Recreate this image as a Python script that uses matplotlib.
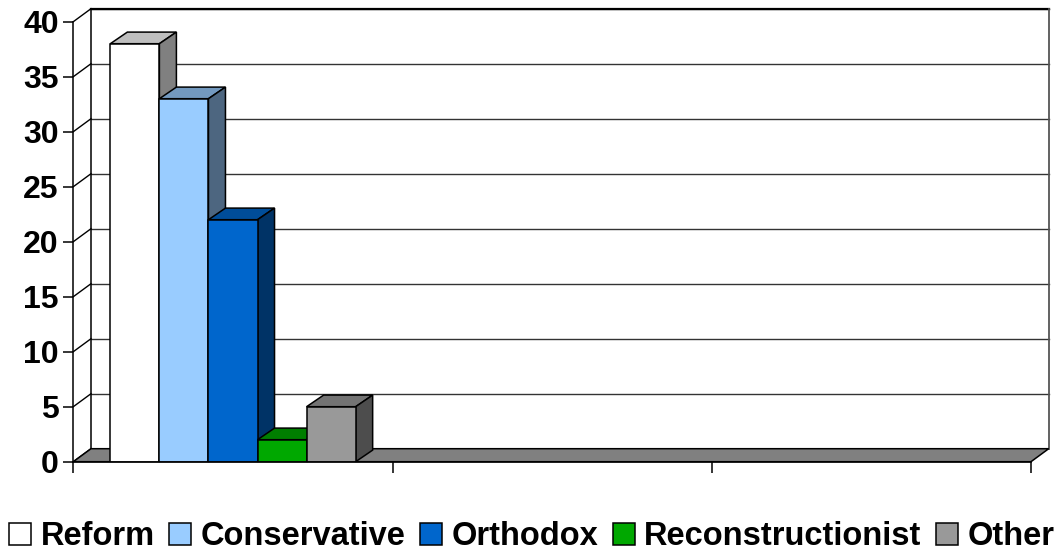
import numpy as np
import matplotlib.pyplot as plt
from matplotlib.patches import Polygon
from matplotlib.colors import to_rgb

plt.rcParams['font.family'] = ['Liberation Sans', 'DejaVu Sans']
plt.rcParams['font.weight'] = 'bold'

# data
series = ['Reform', 'Conservative', 'Orthodox', 'Reconstructionist', 'Other']
values = [38, 33, 22, 2, 5]
colors = ['#ffffff', '#99ccff', '#0066cc', '#00a800', '#999999']
n_cats = 3          # category slots on the x axis, only the first has data
yticks = [0, 5, 10, 15, 20, 25, 30, 35, 40]

fig = plt.figure(figsize=(10.64, 5.51), dpi=100)
ax = fig.add_axes([73.3 / 1064, (551 - 461.7) / 551, 957.7 / 1064, 440 / 551])
ax.set_xlim(0, n_cats)
ax.set_ylim(0, 40)

# depth of the 3D box (wall) and of the bars, in data units
wdx, wdy = 17.7 / 319.2, 13.0 / 11.0
bdx, bdy = 17.0 / 319.2, 11.6 / 11.0

def shade(c, f):
    r, g, b = to_rgb(c)
    return (r * f, g * f, b * f)

# back wall gridlines and left wall diagonals
for v in yticks[1:]:
    ax.plot([wdx, n_cats + wdx], [v + wdy, v + wdy], color='#333333', lw=1.0, zorder=1, clip_on=False)
    ax.plot([0, wdx], [v, v + wdy], color='black', lw=1.0, zorder=1, clip_on=False)
ax.plot([0, wdx], [0, wdy], color='black', lw=1.0, zorder=1, clip_on=False)
ax.plot([wdx, wdx], [wdy, 40 + wdy], color='black', lw=1.1, zorder=1, clip_on=False)
ax.plot([wdx, n_cats + wdx], [40 + wdy, 40 + wdy], color='black', lw=1.6, zorder=1, clip_on=False)
ax.plot([n_cats + wdx, n_cats + wdx], [wdy, 40 + wdy], color='#555555', lw=1.3, zorder=1, clip_on=False)

# floor
floor = Polygon([(0, 0), (n_cats, 0), (n_cats + wdx, wdy), (wdx, wdy)], closed=True,
                facecolor='#808080', edgecolor='black', lw=1.1, zorder=2, clip_on=False)
ax.add_patch(floor)

# bars
width = 0.1537
start = 0.116
handles = []
for i, (name, v, c) in enumerate(zip(series, values, colors)):
    x0 = start + i * width
    z = 3 + i
    b = ax.bar(x0, v, width=width, align='edge', color=c, edgecolor='black', lw=1.1, zorder=z + 0.5, label=name)
    handles.append(b)
    top = Polygon([(x0, v), (x0 + width, v), (x0 + width + bdx, v + bdy), (x0 + bdx, v + bdy)], closed=True,
                  facecolor=shade(c, 0.75), edgecolor='black', lw=1.1, zorder=z, clip_on=False)
    side = Polygon([(x0 + width, 0), (x0 + width + bdx, bdy), (x0 + width + bdx, v + bdy), (x0 + width, v)], closed=True,
                   facecolor=shade(c, 0.5), edgecolor='black', lw=1.1, zorder=z, clip_on=False)
    ax.add_patch(top)
    ax.add_patch(side)

# axes
for s in ['top', 'right']:
    ax.spines[s].set_visible(False)
ax.spines['left'].set_zorder(20)
ax.spines['bottom'].set_zorder(20)
ax.spines['left'].set_linewidth(1.1)
ax.spines['bottom'].set_linewidth(1.1)
ax.set_yticks(yticks)
ax.set_xticks(np.arange(n_cats + 1))
ax.set_xticklabels([])
ax.tick_params(axis='y', direction='out', length=7, width=1.1, pad=3.5, labelsize=23)
ax.tick_params(axis='x', direction='out', length=8, width=1.1)
for lab in ax.get_yticklabels():
    lab.set_fontweight('bold')

fig.legend(handles=handles, labels=series, loc='center', bbox_to_anchor=(0.5, 0.0263), ncol=5,
           frameon=False, prop={'size': 23.5, 'weight': 'bold'}, handlelength=0.66, handleheight=0.66,
           handletextpad=0.3, columnspacing=0.45, borderaxespad=0)

fig.savefig('out.png', dpi=100)
